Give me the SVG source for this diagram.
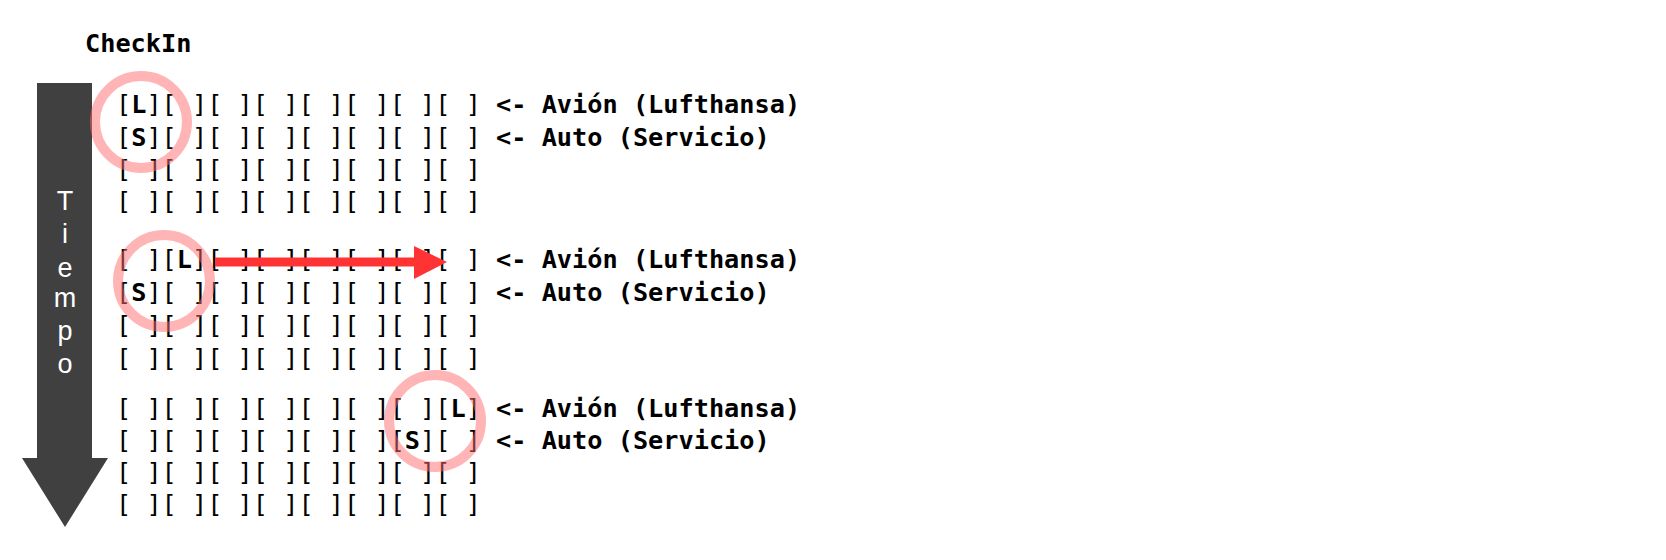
<svg xmlns="http://www.w3.org/2000/svg" width="1666" height="560" viewBox="0 0 1666 560">
<style>
.g{font-family:"DejaVu Sans Mono","Liberation Mono",monospace;font-size:25.25px;fill:#000;white-space:pre}
.b{font-weight:bold}
.t{font-family:"Liberation Sans",Arial,sans-serif;font-size:27px;fill:#fff;text-anchor:middle}
.ring{fill:none;stroke:#ff6b6b;stroke-opacity:0.5;stroke-width:10}
</style>
<rect width="1666" height="560" fill="#fff"/>
<g id="tiempo">
<polygon points="37,83 92,83 92,458 108,458 65,527 22,458 37,458" fill="#404040"/>
<text class="t" x="65" y="210">T</text>
<text class="t" x="65" y="243">i</text>
<text class="t" x="65" y="277">e</text>
<text class="t" x="65" y="307">m</text>
<text class="t" x="65" y="340">p</text>
<text class="t" x="65" y="373">o</text>
</g>
<g id="title"><text class="g b" x="85" y="52">CheckIn</text></g>
<g id="block1">
<text class="g" x="116" y="113" xml:space="preserve">[<tspan class="b">L</tspan>][ ][ ][ ][ ][ ][ ][ ]<tspan class="b"> &lt;- Avión (Lufthansa)</tspan></text>
<text class="g" x="116" y="146" xml:space="preserve">[<tspan class="b">S</tspan>][ ][ ][ ][ ][ ][ ][ ]<tspan class="b"> &lt;- Auto (Servicio)</tspan></text>
<text class="g" x="116" y="178" xml:space="preserve">[ ][ ][ ][ ][ ][ ][ ][ ]</text>
<text class="g" x="116" y="210" xml:space="preserve">[ ][ ][ ][ ][ ][ ][ ][ ]</text>
</g>
<g id="block2">
<text class="g" x="116" y="268" xml:space="preserve">[ ][<tspan class="b">L</tspan>][ ][ ][ ][ ][ ][ ]<tspan class="b"> &lt;- Avión (Lufthansa)</tspan></text>
<text class="g" x="116" y="301" xml:space="preserve">[<tspan class="b">S</tspan>][ ][ ][ ][ ][ ][ ][ ]<tspan class="b"> &lt;- Auto (Servicio)</tspan></text>
<text class="g" x="116" y="334" xml:space="preserve">[ ][ ][ ][ ][ ][ ][ ][ ]</text>
<text class="g" x="116" y="367" xml:space="preserve">[ ][ ][ ][ ][ ][ ][ ][ ]</text>
</g>
<g id="block3">
<text class="g" x="116" y="417" xml:space="preserve">[ ][ ][ ][ ][ ][ ][ ][<tspan class="b">L</tspan>]<tspan class="b"> &lt;- Avión (Lufthansa)</tspan></text>
<text class="g" x="116" y="449" xml:space="preserve">[ ][ ][ ][ ][ ][ ][<tspan class="b">S</tspan>][ ]<tspan class="b"> &lt;- Auto (Servicio)</tspan></text>
<text class="g" x="116" y="481" xml:space="preserve">[ ][ ][ ][ ][ ][ ][ ][ ]</text>
<text class="g" x="116" y="513" xml:space="preserve">[ ][ ][ ][ ][ ][ ][ ][ ]</text>
</g>
<g id="highlights">
<circle class="ring" cx="141" cy="122" r="46"/>
<circle class="ring" cx="164" cy="281" r="46"/>
<circle class="ring" cx="435" cy="421" r="46"/>
</g>
<g id="connectors">
<line x1="215" y1="262" x2="416" y2="262" stroke="#ff3333" stroke-width="9"/>
<polygon points="414,246 447,262 414,279" fill="#ff3333"/>
</g>
</svg>
